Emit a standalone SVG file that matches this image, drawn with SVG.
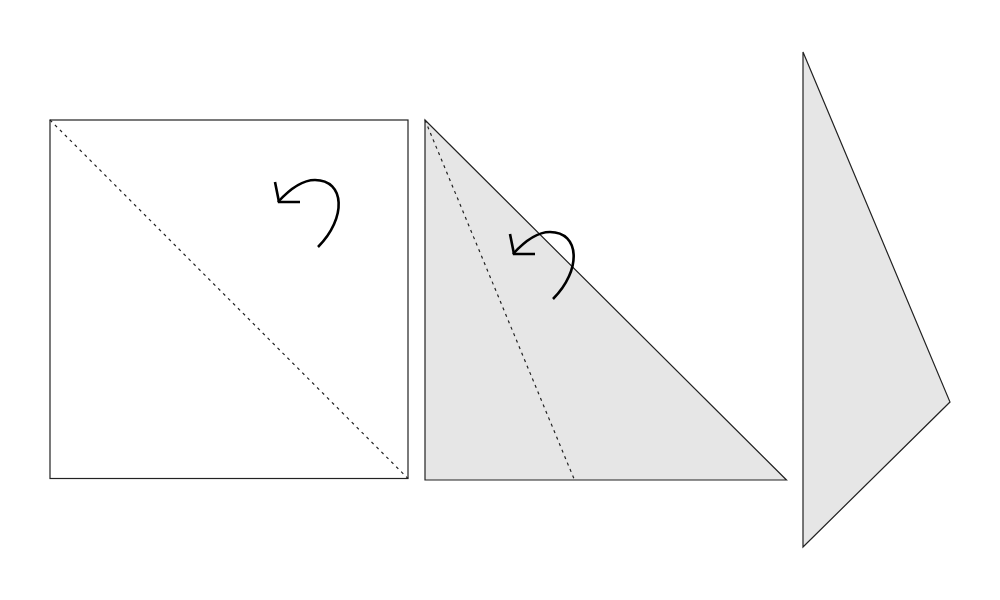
<svg xmlns="http://www.w3.org/2000/svg" width="1000" height="600" viewBox="0 0 1000 600">
<style>
.edge{stroke:#222;stroke-width:1.2;stroke-linejoin:miter}
.fold{stroke:#222;stroke-width:1.2;stroke-dasharray:3,4;fill:none}
.arrow{stroke:#000;stroke-width:2.6;fill:none;stroke-linecap:butt;stroke-linejoin:miter}
</style>
<defs>
<g id="turn">
<path d="M0,44 C29,15 27,-23 -3,-23 C-17,-23 -30,-12 -40,-1"/>
<path d="M-43,-21 L-39,-1 L-18,-1"/>
</g>
</defs>
<rect width="1000" height="600" fill="#fff"/>
<g id="square">
<rect class="edge" x="50" y="120" width="358" height="358.5" fill="#fff"/>
<line class="fold" x1="50" y1="120" x2="408" y2="478.5"/>
</g>
<g id="triangle">
<polygon class="edge" points="425,120 425,480 786.5,480" fill="#e6e6e6"/>
<line class="fold" x1="425" y1="120" x2="574.5" y2="480"/>
</g>
<g id="kite">
<polygon class="edge" points="803,52 950,402 803,547" fill="#e6e6e6"/>
</g>
<g id="connectors">
<use href="#turn" class="arrow" x="318" y="203"/>
<use href="#turn" class="arrow" x="553" y="255"/>
</g>
</svg>
